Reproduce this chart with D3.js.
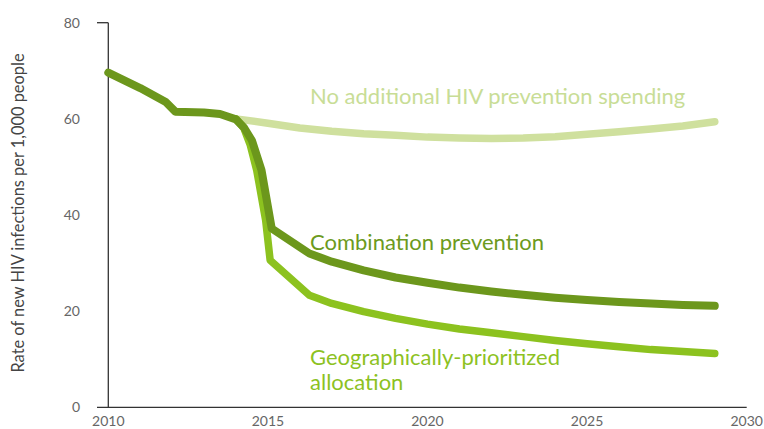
<!DOCTYPE html>
<html><head><meta charset="utf-8">
<script src="https://cdn.jsdelivr.net/npm/d3@7"></script>
<style>body{margin:0;background:#fff}svg{display:block}text{font-family:Lato,"Open Sans",sans-serif}</style>
</head><body><svg id="c" width="764" height="429"></svg>
<script>
const xTicks = [2010, 2015, 2020, 2025, 2030];
const yTicks = [0, 20, 40, 60, 80];
const yTitle = "Rate of new HIV infections per 1,000 people";

const noAddYears = [2014, 2015, 2016, 2017, 2018, 2019, 2020, 2021, 2022, 2023, 2024, 2025, 2026, 2027, 2028, 2029];
const noAddValues = [60, 59.1, 58.1, 57.4, 56.9, 56.6, 56.2, 56.0, 55.9, 56.0, 56.3, 56.8, 57.3, 57.9, 58.5, 59.4];

const geoYears = [2014, 2014.25, 2014.45, 2014.65, 2014.93, 2015.07, 2016.3, 2017, 2018, 2019, 2020, 2021, 2022, 2023, 2024, 2025, 2026, 2027, 2028, 2029];
const geoValues = [60, 58, 54.5, 49.3, 38.9, 30.6, 23.3, 21.6, 19.9, 18.5, 17.3, 16.3, 15.5, 14.7, 13.9, 13.2, 12.6, 12.0, 11.6, 11.2];

const comboYears = [2010, 2011, 2011.8, 2012.1, 2013, 2013.5, 2014, 2014.25, 2014.5, 2014.8, 2015.12, 2016.3, 2017, 2018, 2019, 2020, 2021, 2022, 2023, 2024, 2025, 2026, 2027, 2028, 2029];
const comboValues = [69.6, 66.4, 63.5, 61.5, 61.3, 61.0, 59.9, 58.2, 55.5, 49.3, 37.2, 32.0, 30.3, 28.5, 27.0, 25.9, 24.9, 24.1, 23.4, 22.8, 22.3, 21.9, 21.6, 21.3, 21.1];

const series = [
  {name: "No additional HIV prevention spending", years: noAddYears, values: noAddValues, color: "#cfe09e", width: 7.5},
  {name: "Geographically-prioritized allocation", years: geoYears, values: geoValues, color: "#8cc21f", width: 7.5},
  {name: "Combination prevention", years: comboYears, values: comboValues, color: "#6c971c", width: 8}
];

const svg = d3.select("#c");
const x = d3.scaleLinear().domain([2010, 2030]).range([108.3, 746.7]);
const y = d3.scaleLinear().domain([0, 80]).range([407.3, 22.7]);

// axes
const ax = svg.append("g").attr("stroke", "#333").attr("stroke-width", 1.3);
ax.append("line").attr("x1", 97).attr("x2", x(2030)).attr("y1", y(0)).attr("y2", y(0));
ax.append("line").attr("x1", x(2010)).attr("x2", x(2010)).attr("y1", y(0)).attr("y2", y(80));
ax.append("line").attr("x1", 97).attr("x2", x(2010)).attr("y1", y(80)).attr("y2", y(80));

svg.append("g").selectAll("text").data(yTicks).join("text")
  .attr("x", 80).attr("y", d => y(d)).attr("dy", "0.35em")
  .attr("text-anchor", "end").attr("font-size", 14).attr("fill", "#666").text(d => d);

svg.append("g").selectAll("text").data(xTicks).join("text")
  .attr("x", d => x(d)).attr("y", 421).attr("dy", "0.35em")
  .attr("text-anchor", "middle").attr("font-size", 14).attr("fill", "#666").text(d => d);

svg.append("text").attr("transform", "translate(18,213) rotate(-90)")
  .attr("text-anchor", "middle").attr("dy", "0.35em").attr("font-size", 16.4).attr("fill", "#444").text(yTitle);

const line = d3.line().x(d => x(d[0])).y(d => y(d[1])).curve(d3.curveLinear);
svg.append("g").selectAll("path").data(series).join("path")
  .attr("d", s => line(s.years.map((yr, i) => [yr, s.values[i]])))
  .attr("fill", "none").attr("stroke", s => s.color).attr("stroke-width", s => s.width)
  .attr("stroke-linecap", "round").attr("stroke-linejoin", "round");

// labels
svg.append("text").attr("x", 310).attr("y", 104).attr("font-size", 22).attr("fill", "#c8dd96").text(series[0].name);
svg.append("text").attr("x", 310).attr("y", 250).attr("font-size", 22).attr("fill", "#6c9a20").text(series[2].name);
const g = svg.append("text").attr("font-size", 22).attr("fill", "#8dc21f");
g.append("tspan").attr("x", 310).attr("y", 365).text("Geographically-prioritized");
g.append("tspan").attr("x", 310).attr("y", 390).text("allocation");
</script></body></html>
